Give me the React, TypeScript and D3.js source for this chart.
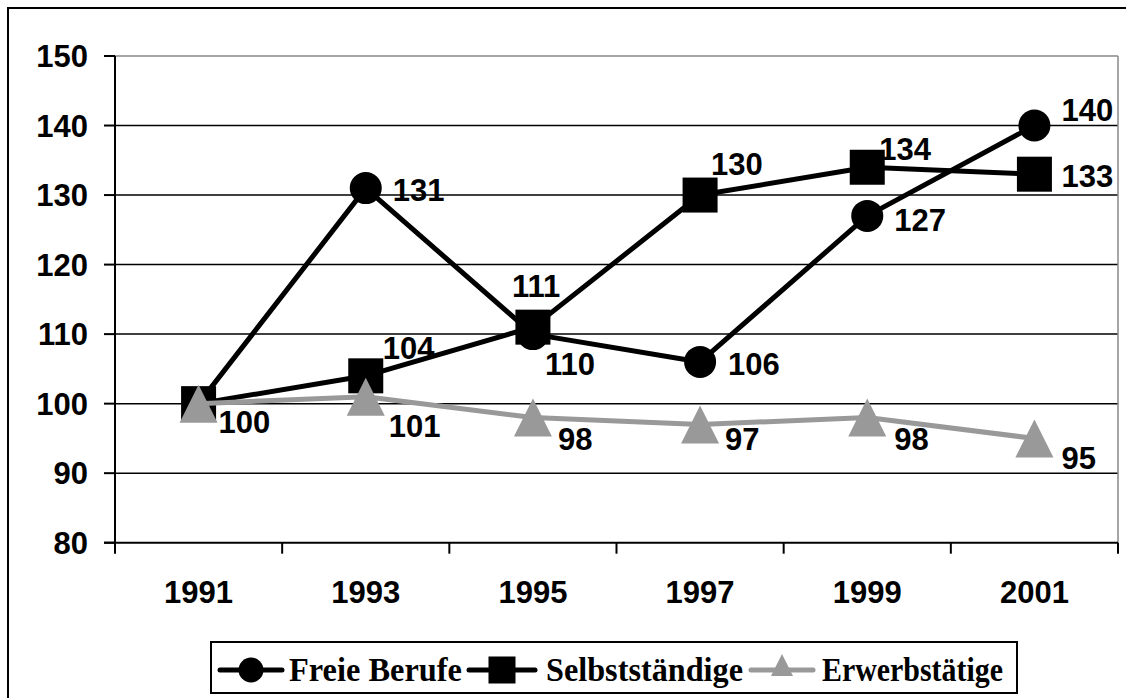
import React, { useEffect, useRef } from 'react';
import * as d3 from 'd3';

// Jahre und Indexwerte (1991 = 100)
const years = ['1991', '1993', '1995', '1997', '1999', '2001'];
const freieBerufe = [100, 131, 110, 106, 127, 140];
const selbststaendige = [100, 104, 111, 130, 134, 133];
const erwerbstaetige = [100, 101, 98, 97, 98, 95];
const yTicks = [80, 90, 100, 110, 120, 130, 140, 150];
const seriesNames = ['Freie Berufe', 'Selbstständige', 'Erwerbstätige'];

// Verschiebung der Datenbeschriftungen (null = keine Beschriftung)
const labelNudge: (number[] | null)[][] = [
  [[20, 18], [27, 2], [12, 30], [28, 2], [27, 4], [27, -16]],
  [null, [17, -28], [-21, -41], [11, -31], [12, -18], [27, 2]],
  [null, [23, 29], [25, 21], [25, 14], [27, 21], [27, 20]],
];

const W = 1126;
const H = 698;

export default function App() {
  const ref = useRef<SVGSVGElement>(null);

  useEffect(() => {
    const svg = d3.select(ref.current);
    svg.selectAll('*').remove();

    const left = 115, right = 1118, top = 56, bottom = 542.7;
    const sans = '"Liberation Sans", Arial, sans-serif';
    const serif = '"Liberation Serif", "Times New Roman", serif';
    const fs = 31;

    const x = d3.scalePoint<string>().domain(years).range([left, right]).padding(0.5);
    const y = d3.scaleLinear().domain([80, 150]).range([bottom, top]);

    // äußerer Rahmen
    svg.append('rect')
      .attr('x', 8).attr('y', 8).attr('width', W).attr('height', H)
      .attr('fill', 'white').attr('stroke', 'black').attr('stroke-width', 2);

    // Gitterlinien
    svg.append('g').selectAll('line')
      .data(yTicks.filter(d => d > 80))
      .enter().append('line')
      .attr('x1', left).attr('x2', right)
      .attr('y1', d => y(d)).attr('y2', d => y(d))
      .attr('stroke', d => (d === 150 ? '#888' : 'black'))
      .attr('stroke-width', 1.5);

    // rechter Rand der Zeichenfläche
    svg.append('line')
      .attr('x1', right).attr('x2', right).attr('y1', top).attr('y2', bottom)
      .attr('stroke', '#888').attr('stroke-width', 1.5);

    // Achsen
    svg.append('line')
      .attr('x1', left).attr('x2', left).attr('y1', top).attr('y2', bottom)
      .attr('stroke', 'black').attr('stroke-width', 2);
    svg.append('line')
      .attr('x1', left - 11).attr('x2', right).attr('y1', bottom).attr('y2', bottom)
      .attr('stroke', 'black').attr('stroke-width', 2);

    svg.append('g').selectAll('line')
      .data(yTicks)
      .enter().append('line')
      .attr('x1', left - 11).attr('x2', left)
      .attr('y1', d => y(d)).attr('y2', d => y(d))
      .attr('stroke', 'black').attr('stroke-width', 2);

    const step = x.step();
    svg.append('g').selectAll('line')
      .data(d3.range(years.length + 1))
      .enter().append('line')
      .attr('x1', i => left + i * step).attr('x2', i => left + i * step)
      .attr('y1', bottom).attr('y2', bottom + 11)
      .attr('stroke', 'black').attr('stroke-width', 2);

    svg.append('g').selectAll('text')
      .data(yTicks)
      .enter().append('text')
      .attr('x', 88).attr('y', d => y(d) + 11)
      .attr('text-anchor', 'end')
      .attr('font-family', sans).attr('font-weight', 'bold').attr('font-size', fs)
      .text(d => d);

    svg.append('g').selectAll('text')
      .data(years)
      .enter().append('text')
      .attr('x', d => x(d)!).attr('y', 603)
      .attr('text-anchor', 'middle')
      .attr('font-family', sans).attr('font-weight', 'bold').attr('font-size', fs)
      .text(d => d);

    const colors = ['black', 'black', '#999'];
    const allSeries = [freieBerufe, selbststaendige, erwerbstaetige];

    const marker = (g: any, k: number, s: number, color: string) => {
      if (k === 0) {
        g.append('circle').attr('r', s / 2).attr('fill', color);
      } else if (k === 1) {
        g.append('rect').attr('x', -s / 2).attr('y', -s / 2)
          .attr('width', s).attr('height', s).attr('fill', color);
      } else {
        g.append('path')
          .attr('d', `M0,${-s / 2}L${s / 2},${s / 2}L${-s / 2},${s / 2}Z`)
          .attr('fill', color);
      }
    };

    const line = d3.line<number>()
      .x((_, i) => x(years[i])!)
      .y(d => y(d));

    allSeries.forEach((vals, k) => {
      const g = svg.append('g');
      g.append('path')
        .attr('d', line(vals))
        .attr('fill', 'none')
        .attr('stroke', colors[k])
        .attr('stroke-width', 5)
        .attr('stroke-linejoin', 'round');
      const sizes = [32, 35, 38];
      vals.forEach((v, i) => {
        const m = g.append('g').attr('transform', `translate(${x(years[i])},${y(v)})`);
        marker(m, k, sizes[k], colors[k]);
      });
    });

    // Datenbeschriftungen
    allSeries.forEach((vals, k) => {
      vals.forEach((v, i) => {
        const n = labelNudge[k][i];
        if (!n) return;
        svg.append('text')
          .attr('x', x(years[i])! + n[0])
          .attr('y', y(v) + n[1] + 11)
          .attr('font-family', sans).attr('font-weight', 'bold').attr('font-size', fs)
          .attr('fill', 'black')
          .text(v);
      });
    });

    // Legende
    svg.append('rect')
      .attr('x', 211).attr('y', 642).attr('width', 806).attr('height', 51)
      .attr('fill', 'white').attr('stroke', 'black').attr('stroke-width', 2);

    const legendItems = [
      { x1: 220, x2: 282, text: 289, width: 173, size: 25 },
      { x1: 469, x2: 535, text: 546, width: 197, size: 27 },
      { x1: 751, x2: 813, text: 822, width: 181, size: 22 },
    ];
    legendItems.forEach((it, k) => {
      const g = svg.append('g');
      g.append('line')
        .attr('x1', it.x1).attr('x2', it.x2).attr('y1', 670).attr('y2', 670)
        .attr('stroke', colors[k]).attr('stroke-width', 5).attr('stroke-linecap', 'round');
      const m = g.append('g').attr('transform', `translate(${(it.x1 + it.x2) / 2},${k === 2 ? 665 : 670})`);
      marker(m, k, it.size, colors[k]);
      g.append('text')
        .attr('x', it.text).attr('y', 681)
        .attr('font-family', serif).attr('font-weight', 'bold').attr('font-size', 33)
        .attr('textLength', it.width).attr('lengthAdjust', 'spacingAndGlyphs')
        .text(seriesNames[k]);
    });
  }, []);

  return (
    <svg ref={ref} width={W} height={H}
      style={{ position: 'absolute', left: 0, top: 0, background: 'white' }} />
  );
}
